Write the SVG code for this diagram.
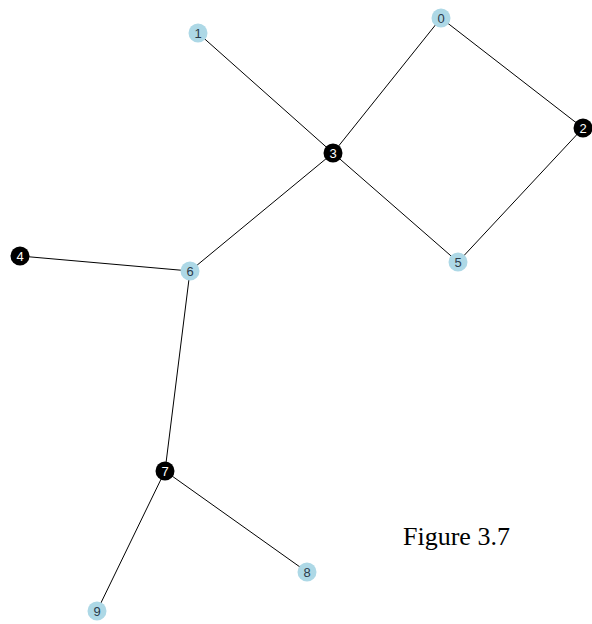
<svg xmlns="http://www.w3.org/2000/svg" width="592" height="624" viewBox="0 0 592 624">
<style>
.e{stroke:#000;stroke-width:1;fill:none}
.lb circle{fill:#add8e6}
.lb text{fill:#2a3a4a}
.bk circle{fill:#000}
.bk text{fill:#fff}
.n text{font-family:"Liberation Sans",Arial,sans-serif;font-size:13px;text-anchor:middle;dominant-baseline:central}
.cap{font-family:"Liberation Serif","Times New Roman",serif;font-size:26px;fill:#000}
</style>
<rect width="592" height="624" fill="#fff"/>
<g id="edges">
<line class="e" x1="441" y1="18" x2="333" y2="153"/>
<line class="e" x1="441" y1="18" x2="583" y2="128"/>
<line class="e" x1="198" y1="33" x2="333" y2="153"/>
<line class="e" x1="583" y1="128" x2="458" y2="262"/>
<line class="e" x1="333" y1="153" x2="458" y2="262"/>
<line class="e" x1="333" y1="153" x2="190" y2="271"/>
<line class="e" x1="20" y1="256" x2="190" y2="271"/>
<line class="e" x1="190" y1="271" x2="165" y2="471"/>
<line class="e" x1="165" y1="471" x2="307" y2="572"/>
<line class="e" x1="165" y1="471" x2="97" y2="611"/>
</g>
<g id="n0" class="n lb"><circle cx="441" cy="18" r="9.5"/><text x="441" y="18">0</text></g>
<g id="n1" class="n lb"><circle cx="198" cy="33" r="9.5"/><text x="198" y="33">1</text></g>
<g id="n2" class="n bk"><circle cx="583" cy="128" r="9.5"/><text x="583" y="128">2</text></g>
<g id="n3" class="n bk"><circle cx="333" cy="153" r="9.5"/><text x="333" y="153">3</text></g>
<g id="n4" class="n bk"><circle cx="20" cy="256" r="9.5"/><text x="20" y="256">4</text></g>
<g id="n5" class="n lb"><circle cx="458" cy="262" r="9.5"/><text x="458" y="262">5</text></g>
<g id="n6" class="n lb"><circle cx="190" cy="271" r="9.5"/><text x="190" y="271">6</text></g>
<g id="n7" class="n bk"><circle cx="165" cy="471" r="9.5"/><text x="165" y="471">7</text></g>
<g id="n8" class="n lb"><circle cx="307" cy="572" r="9.5"/><text x="307" y="572">8</text></g>
<g id="n9" class="n lb"><circle cx="97" cy="611" r="9.5"/><text x="97" y="611">9</text></g>
<text class="cap" x="403" y="545">Figure 3.7</text>
</svg>
